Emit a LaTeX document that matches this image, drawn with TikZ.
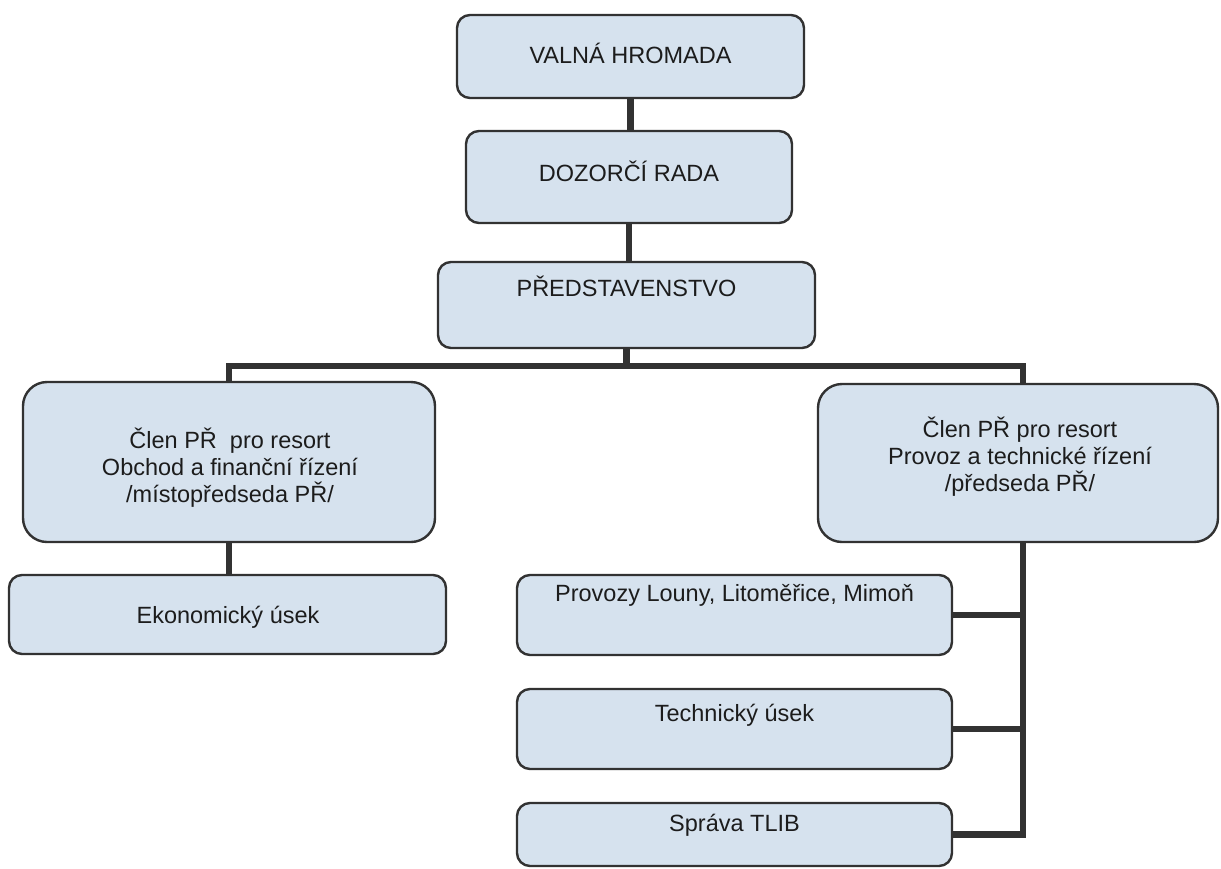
\documentclass[tikz,border=0pt]{standalone}
\usepackage{fontspec}
\setmainfont{Liberation Sans}
\usetikzlibrary{calc}
\definecolor{boxfill}{RGB}{214,226,238}
\definecolor{boxline}{RGB}{50,50,50}
\definecolor{txtcol}{RGB}{28,28,28}
\begin{document}
\begin{tikzpicture}[x=1pt,y=-1pt,
  box/.style={draw=boxline, fill=boxfill, line width=2.4pt, rounded corners=13pt, inner sep=0pt},
  bigbox/.style={box, rounded corners=24pt},
  conn/.style={draw=boxline, line width=6.5pt},
  lbl/.style={text=txtcol, font=\fontsize{23.5}{27}\selectfont, inner sep=0pt, align=center}]
\useasboundingbox (0,0) rectangle (1221,868);
\fill[white] (0,0) rectangle (1221,868);

% boxes
\node[box, minimum width=347pt, minimum height=83pt] (valna) at (630.5,56.5) {};
\node[box, minimum width=326pt, minimum height=92pt] (dozor) at (629,177) {};
\node[box, minimum width=377pt, minimum height=86pt] (pred) at (626.5,305) {};
\node[bigbox, minimum width=412pt, minimum height=160pt] (clenL) at (229,462) {};
\node[bigbox, minimum width=400pt, minimum height=158pt] (clenR) at (1018,463) {};
\node[box, minimum width=437pt, minimum height=79pt] (ekon) at (227.5,614.5) {};
\node[box, minimum width=435pt, minimum height=80pt] (prov) at (734.5,615) {};
\node[box, minimum width=435pt, minimum height=80pt] (tech) at (734.5,729) {};
\node[box, minimum width=435pt, minimum height=63pt] (sprava) at (734.5,834.5) {};

% connectors
\coordinate (bus) at (0,366);
\draw[conn] (valna.south) -- (valna.south |- dozor.north);
\draw[conn] (dozor.south) -- (dozor.south |- pred.north);
\draw[conn] (pred.south) -- (pred.south |- bus);
\draw[conn] (clenL.north) -- (clenL.north |- bus) -- ([xshift=5pt]clenR.north |- bus) -- ([xshift=5pt]clenR.north);
\draw[conn] (clenL.south) -- (clenL.south |- ekon.north);
\draw[conn] ([xshift=5pt]clenR.south) |- (sprava.east);
\draw[conn] (prov.east) -- ([xshift=5pt]prov.east -| clenR.south);
\draw[conn] (tech.east) -- ([xshift=5pt]tech.east -| clenR.south);

% texts
\node[lbl, anchor=base] (tvalna) at (630.5,63) {VALNÁ HROMADA};
\node[lbl, anchor=base] (tdozor) at (629,181) {DOZORČÍ RADA};
\node[lbl, anchor=base] (tpred) at (626.5,296) {PŘEDSTAVENSTVO};
\node[lbl] (tclenL) at (230,468) {Člen PŘ\ \ pro resort\\Obchod a finanční řízení\\/místopředseda PŘ/};
\node[lbl] (tclenR) at (1020,457) {Člen PŘ pro resort\\Provoz a technické řízení\\/předseda PŘ/};
\node[lbl, anchor=base] (tekon) at (228,623) {Ekonomický úsek};
\node[lbl, anchor=base] (tprov) at (734.5,601) {Provozy Louny, Litoměřice, Mimoň};
\node[lbl, anchor=base] (ttech) at (734.5,721) {Technický úsek};
\node[lbl, anchor=base] (tsprava) at (734.5,831) {Správa TLIB};
\end{tikzpicture}
\end{document}
